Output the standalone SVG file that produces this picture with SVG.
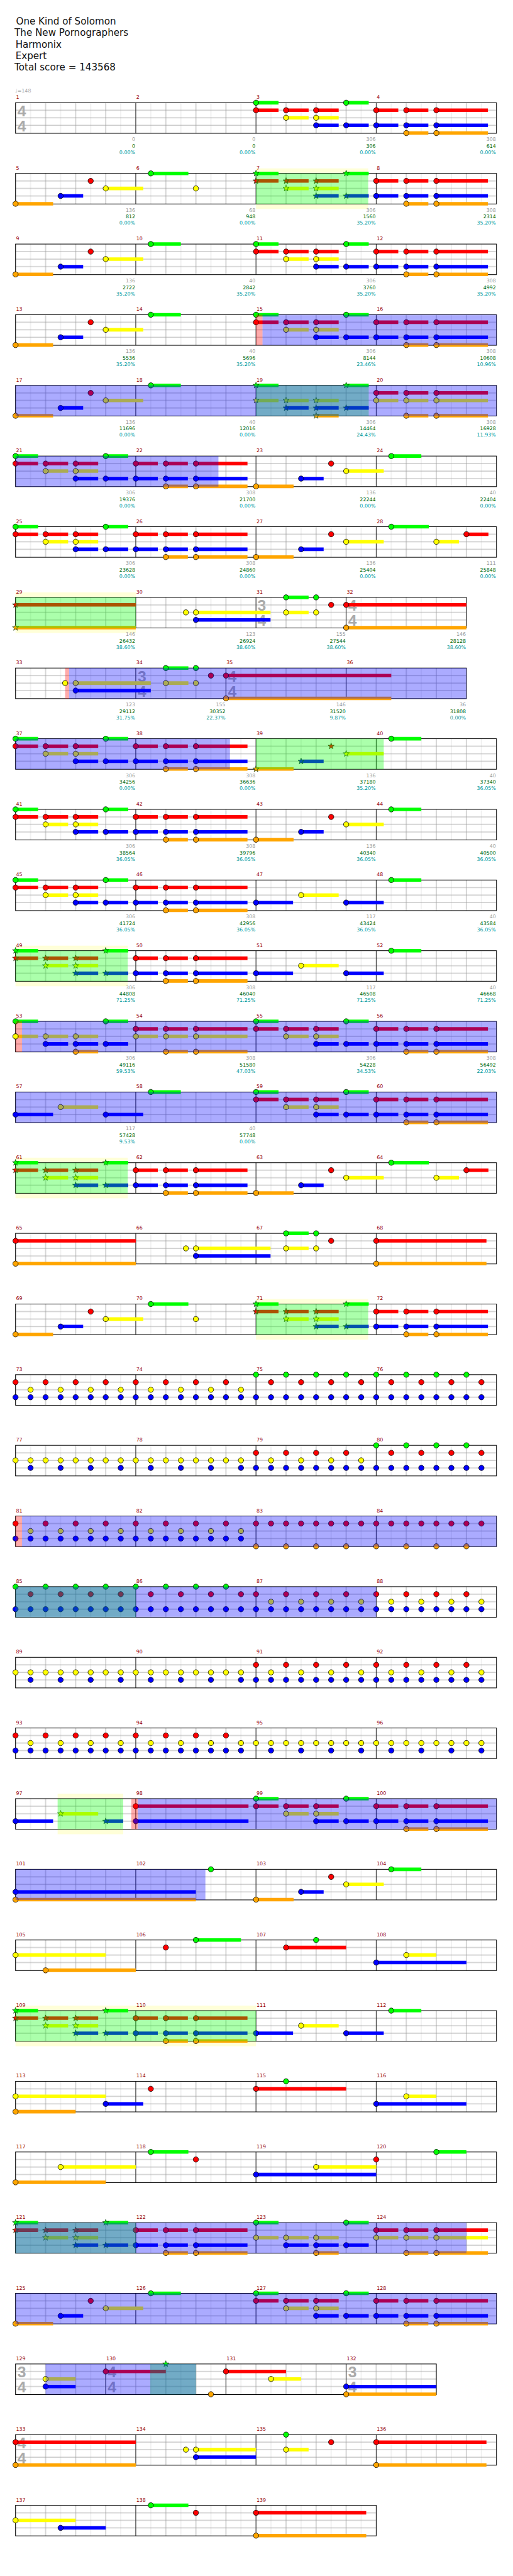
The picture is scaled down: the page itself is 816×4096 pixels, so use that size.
<svg xmlns="http://www.w3.org/2000/svg" width="816" height="4096" viewBox="0 0 816 4096">
<style>
.ml{stroke:#000;stroke-width:1}
.bd{fill:none;stroke:#000;stroke-width:1.3}
.g{fill:#0f0}.r{fill:#f00}.y{fill:#ff0}.b{fill:#00f}.o{fill:#ffa500}
.og{fill:#0f0;fill-opacity:.33}.ob{fill:#00f;fill-opacity:.33}.op{fill:#f00;fill-opacity:.33}
.yb{fill:#ffffd8}
.mn{font:10px "DejaVu Sans",sans-serif;fill:#900}
.sa,.sb,.sc{font:10px "DejaVu Sans",sans-serif;text-anchor:end}
.sa{fill:#999}.sb{fill:#060}.sc{fill:#099}
.ts{font:bold 31px "Liberation Sans",sans-serif;fill:#aaa}
.hd{font:19px "DejaVu Sans",sans-serif;fill:#111}
</style>
<defs>
<pattern id="grid" patternUnits="userSpaceOnUse" x="31" y="0" width="60" height="61">
<rect width="60" height="61" fill="#fff"/>
<path d="M30 0V61" stroke="#ddd"/>
<path d="M0 0V61M60 0V61M0 15H60M0 30H60M0 45H60" stroke="#999"/>
</pattern>
<circle id="G" r="5.3" fill="#0f0" stroke="#000"/>
<circle id="R" r="5.3" fill="#f00" stroke="#000"/>
<circle id="Y" r="5.3" fill="#ff0" stroke="#000"/>
<circle id="B" r="5.3" fill="#00f" stroke="#000"/>
<circle id="O" r="5.3" fill="#ffa500" stroke="#000"/>
<polygon id="sG" fill="#0f0" stroke="#030" stroke-width=".8" points="0,-6.5 1.5,-2.1 6.2,-2 2.5,0.8 3.8,5.3 0,2.6 -3.8,5.3 -2.5,0.8 -6.2,-2 -1.5,-2.1"/>
<polygon id="sR" fill="#f00" stroke="#030" stroke-width=".8" points="0,-6.5 1.5,-2.1 6.2,-2 2.5,0.8 3.8,5.3 0,2.6 -3.8,5.3 -2.5,0.8 -6.2,-2 -1.5,-2.1"/>
<polygon id="sY" fill="#ff0" stroke="#030" stroke-width=".8" points="0,-6.5 1.5,-2.1 6.2,-2 2.5,0.8 3.8,5.3 0,2.6 -3.8,5.3 -2.5,0.8 -6.2,-2 -1.5,-2.1"/>
<polygon id="sB" fill="#00f" stroke="#030" stroke-width=".8" points="0,-6.5 1.5,-2.1 6.2,-2 2.5,0.8 3.8,5.3 0,2.6 -3.8,5.3 -2.5,0.8 -6.2,-2 -1.5,-2.1"/>
<polygon id="sO" fill="#ffa500" stroke="#030" stroke-width=".8" points="0,-6.5 1.5,-2.1 6.2,-2 2.5,0.8 3.8,5.3 0,2.6 -3.8,5.3 -2.5,0.8 -6.2,-2 -1.5,-2.1"/>
<g id="A1">
<path class="g" d="M0 -3.5h45v7h-45zM180 -3.5h45v7h-45z"/>
<path class="r" d="M0 11.5h45v7h-45zM60 11.5h45v7h-45zM120 11.5h45v7h-45z"/>
<path class="y" d="M60 26.5h45v7h-45zM120 26.5h45v7h-45z"/>
<path class="b" d="M120 41.5h45v7h-45zM180 41.5h45v7h-45z"/>
<use href="#G" x="0" y="0"/><use href="#G" x="180" y="0"/>
<use href="#R" x="0" y="15"/><use href="#R" x="60" y="15"/><use href="#R" x="120" y="15"/>
<use href="#Y" x="60" y="30"/><use href="#Y" x="120" y="30"/>
<use href="#B" x="120" y="45"/><use href="#B" x="180" y="45"/>
</g>
<g id="A1s">
<path class="g" d="M0 -3.5h45v7h-45zM180 -3.5h45v7h-45z"/>
<path class="r" d="M0 11.5h45v7h-45zM60 11.5h45v7h-45zM120 11.5h45v7h-45z"/>
<path class="y" d="M60 26.5h45v7h-45zM120 26.5h45v7h-45z"/>
<path class="b" d="M120 41.5h45v7h-45zM180 41.5h45v7h-45z"/>
<use href="#sG" x="0" y="0"/><use href="#sG" x="180" y="0"/>
<use href="#sR" x="0" y="15"/><use href="#sR" x="60" y="15"/><use href="#sR" x="120" y="15"/>
<use href="#sY" x="60" y="30"/><use href="#sY" x="120" y="30"/>
<use href="#sB" x="120" y="45"/><use href="#sB" x="180" y="45"/>
</g>
<g id="A2">
<path class="r" d="M240 11.5h44v7h-44zM300 11.5h44v7h-44zM360 11.5h103v7h-103z"/>
<path class="b" d="M240 41.5h44v7h-44zM300 41.5h44v7h-44zM360 41.5h103v7h-103z"/>
<path class="o" d="M300 57h44v7h-44zM360 57h103v7h-103z"/>
<use href="#R" x="240" y="15"/><use href="#R" x="300" y="15"/><use href="#R" x="360" y="15"/>
<use href="#B" x="240" y="45"/><use href="#B" x="300" y="45"/><use href="#B" x="360" y="45"/>
<use href="#O" x="300" y="60.5"/><use href="#O" x="360" y="60.5"/>
</g>
<g id="C1">
<path class="g" d="M0 -3.5h45v7h-45zM180 -3.5h45v7h-45z"/>
<path class="y" d="M0 26.5h45v7h-45zM60 26.5h45v7h-45zM120 26.5h45v7h-45z"/>
<path class="b" d="M60 41.5h45v7h-45zM120 41.5h45v7h-45zM180 41.5h45v7h-45z"/>
<path class="o" d="M120 57h45v7h-45z"/>
<use href="#G" x="0" y="0"/><use href="#G" x="180" y="0"/>
<use href="#Y" x="0" y="30"/><use href="#Y" x="60" y="30"/><use href="#Y" x="120" y="30"/>
<use href="#B" x="60" y="45"/><use href="#B" x="120" y="45"/><use href="#B" x="180" y="45"/>
<use href="#O" x="120" y="60.5"/>
</g>
<g id="C1s">
<path class="g" d="M0 -3.5h45v7h-45zM180 -3.5h45v7h-45z"/>
<path class="y" d="M0 26.5h45v7h-45zM60 26.5h45v7h-45zM120 26.5h45v7h-45z"/>
<path class="b" d="M60 41.5h45v7h-45zM120 41.5h45v7h-45zM180 41.5h45v7h-45z"/>
<path class="o" d="M120 57h45v7h-45z"/>
<use href="#sG" x="0" y="0"/><use href="#sG" x="180" y="0"/>
<use href="#sY" x="0" y="30"/><use href="#sY" x="60" y="30"/><use href="#sY" x="120" y="30"/>
<use href="#sB" x="60" y="45"/><use href="#sB" x="120" y="45"/><use href="#sB" x="180" y="45"/>
<use href="#sO" x="120" y="60.5"/>
</g>
<g id="C2">
<path class="r" d="M240 11.5h44v7h-44zM300 11.5h44v7h-44zM360 11.5h103v7h-103z"/>
<path class="y" d="M240 26.5h44v7h-44zM300 26.5h44v7h-44zM360 26.5h103v7h-103z"/>
<path class="o" d="M300 57h44v7h-44zM360 57h103v7h-103z"/>
<use href="#R" x="240" y="15"/><use href="#R" x="300" y="15"/><use href="#R" x="360" y="15"/>
<use href="#Y" x="240" y="30"/><use href="#Y" x="300" y="30"/><use href="#Y" x="360" y="30"/>
<use href="#O" x="300" y="60.5"/><use href="#O" x="360" y="60.5"/>
</g>
<g id="M">
<path class="o" d="M0 57h75v7h-75z"/>
<path class="b" d="M90 41.5h45v7h-45z"/>
<path class="y" d="M180 26.5h75v7h-75z"/>
<use href="#O" x="0" y="60.5"/><use href="#B" x="90" y="45"/><use href="#R" x="150" y="15"/><use href="#Y" x="180" y="30"/>
</g>
<g id="Ms">
<path class="o" d="M0 57h75v7h-75z"/>
<path class="b" d="M90 41.5h45v7h-45z"/>
<path class="y" d="M180 26.5h75v7h-75z"/>
<use href="#sO" x="0" y="60.5"/><use href="#sB" x="90" y="45"/><use href="#sR" x="150" y="15"/><use href="#sY" x="180" y="30"/>
</g>
<g id="N">
<path class="b" d="M0 41.5h74v7h-74zM180 41.5h75v7h-75z"/>
<path class="y" d="M90 26.5h75v7h-75z"/>
<path class="g" d="M270 -3.5h60v7h-60z"/>
<use href="#B" x="0" y="45"/><use href="#Y" x="90" y="30"/><use href="#B" x="180" y="45"/><use href="#G" x="270" y="0"/>
</g>
<g id="E1">
<use href="#B" x="0" y="45"/><use href="#B" x="30" y="45"/><use href="#B" x="60" y="45"/><use href="#B" x="90" y="45"/><use href="#B" x="120" y="45"/><use href="#B" x="150" y="45"/><use href="#B" x="180" y="45"/><use href="#B" x="210" y="45"/>
<use href="#R" x="0" y="15"/><use href="#R" x="60" y="15"/><use href="#R" x="120" y="15"/><use href="#R" x="180" y="15"/>
<use href="#Y" x="30" y="30"/><use href="#Y" x="90" y="30"/><use href="#Y" x="150" y="30"/><use href="#Y" x="210" y="30"/>
</g>
<g id="E2">
<use href="#B" x="0" y="45"/><use href="#B" x="30" y="45"/><use href="#B" x="60" y="45"/><use href="#B" x="90" y="45"/><use href="#B" x="120" y="45"/><use href="#B" x="150" y="45"/><use href="#B" x="180" y="45"/><use href="#B" x="210" y="45"/>
<use href="#G" x="0" y="0"/><use href="#G" x="60" y="0"/><use href="#G" x="120" y="0"/><use href="#G" x="180" y="0"/>
<use href="#R" x="30" y="15"/><use href="#R" x="90" y="15"/><use href="#R" x="150" y="15"/><use href="#R" x="210" y="15"/>
</g>
<g id="E3">
<use href="#Y" x="0" y="30"/><use href="#Y" x="30" y="30"/><use href="#Y" x="60" y="30"/><use href="#Y" x="90" y="30"/><use href="#Y" x="120" y="30"/><use href="#Y" x="150" y="30"/><use href="#Y" x="180" y="30"/><use href="#Y" x="210" y="30"/>
<use href="#B" x="30" y="45"/><use href="#B" x="90" y="45"/><use href="#B" x="150" y="45"/><use href="#B" x="210" y="45"/>
</g>
<g id="E4">
<use href="#R" x="0" y="15"/><use href="#R" x="30" y="15"/><use href="#R" x="60" y="15"/><use href="#R" x="90" y="15"/><use href="#R" x="120" y="15"/><use href="#R" x="150" y="15"/><use href="#R" x="180" y="15"/><use href="#R" x="210" y="15"/>
<use href="#O" x="0" y="60.5"/><use href="#O" x="60" y="60.5"/><use href="#O" x="120" y="60.5"/><use href="#O" x="180" y="60.5"/>
</g>
<g id="st4">
<rect x="31" width="960" height="61" fill="url(#grid)"/>
<path class="ml" d="M271 0v61M511 0v61M751 0v61"/>
<rect class="bd" x="31" width="960" height="61"/>
</g>
</defs>
<rect width="816" height="4096" fill="#fff"/>
<g transform="scale(0.796875)">
<g id="header">
<text class="hd" x="32" y="49">One Kind of Solomon</text>
<text class="hd" x="29" y="72">The New Pornographers</text>
<text class="hd" x="31" y="95">Harmonix</text>
<text class="hd" x="31" y="118">Expert</text>
<text class="hd" x="29" y="141">Total score = 143568</text>
<text x="30" y="185" style="font:10px 'DejaVu Sans',sans-serif;fill:#aaa">♩=148</text>
</g>

<g id="row1" transform="translate(0,205)">
<use href="#st4"/>
<text class="ts" x="35" y="27">4</text><text class="ts" x="35" y="57">4</text>
<use href="#A1" x="511"/><use href="#A2" x="511"/>
<text class="mn" x="32" y="-7.5">1</text><text class="mn" x="272" y="-7.5">2</text><text class="mn" x="512" y="-7.5">3</text><text class="mn" x="752" y="-7.5">4</text>
<text class="sa" x="270" y="76.5">0</text><text class="sb" x="270" y="90">0</text><text class="sc" x="270" y="102.5">0.00%</text>
<text class="sa" x="510" y="76.5">0</text><text class="sb" x="510" y="90">0</text><text class="sc" x="510" y="102.5">0.00%</text>
<text class="sa" x="750" y="76.5">306</text><text class="sb" x="750" y="90">306</text><text class="sc" x="750" y="102.5">0.00%</text>
<text class="sa" x="990" y="76.5">308</text><text class="sb" x="990" y="90">614</text><text class="sc" x="990" y="102.5">0.00%</text>
</g>

<g id="row2" transform="translate(0,346)">
<rect class="yb" x="511" y="-10" width="224" height="81"/>
<use href="#st4"/>
<use href="#M" x="31"/>
<path class="g" d="M301 -3.5h75v7h-75z"/><use href="#G" x="301" y="0"/><use href="#Y" x="391" y="30"/>
<use href="#A1s" x="511"/><use href="#A2" x="511"/>
<rect class="og" x="511" width="224" height="61"/>
<text class="mn" x="32" y="-7.5">5</text><text class="mn" x="272" y="-7.5">6</text><text class="mn" x="512" y="-7.5">7</text><text class="mn" x="752" y="-7.5">8</text>
<text class="sa" x="270" y="76.5">136</text><text class="sb" x="270" y="90">812</text><text class="sc" x="270" y="102.5">0.00%</text>
<text class="sa" x="510" y="76.5">68</text><text class="sb" x="510" y="90">948</text><text class="sc" x="510" y="102.5">0.00%</text>
<text class="sa" x="750" y="76.5">306</text><text class="sb" x="750" y="90">1560</text><text class="sc" x="750" y="102.5">35.20%</text>
<text class="sa" x="990" y="76.5">308</text><text class="sb" x="990" y="90">2314</text><text class="sc" x="990" y="102.5">35.20%</text>
</g>

<g id="row3" transform="translate(0,487)">
<use href="#st4"/>
<use href="#M" x="31"/>
<path class="g" d="M301 -3.5h60v7h-60z"/><use href="#G" x="301" y="0"/>
<use href="#A1" x="511"/><use href="#A2" x="511"/>
<text class="mn" x="32" y="-7.5">9</text><text class="mn" x="272" y="-7.5">10</text><text class="mn" x="512" y="-7.5">11</text><text class="mn" x="752" y="-7.5">12</text>
<text class="sa" x="270" y="76.5">136</text><text class="sb" x="270" y="90">2722</text><text class="sc" x="270" y="102.5">35.20%</text>
<text class="sa" x="510" y="76.5">40</text><text class="sb" x="510" y="90">2842</text><text class="sc" x="510" y="102.5">35.20%</text>
<text class="sa" x="750" y="76.5">306</text><text class="sb" x="750" y="90">3760</text><text class="sc" x="750" y="102.5">35.20%</text>
<text class="sa" x="990" y="76.5">308</text><text class="sb" x="990" y="90">4992</text><text class="sc" x="990" y="102.5">35.20%</text>
</g>

<g id="row4" transform="translate(0,628)">
<use href="#st4"/>
<use href="#M" x="31"/>
<path class="g" d="M301 -3.5h60v7h-60z"/><use href="#G" x="301" y="0"/>
<use href="#A1" x="511"/><use href="#A2" x="511"/>
<rect class="op" x="511" width="13" height="61"/><rect class="ob" x="524" width="467" height="61"/>
<text class="mn" x="32" y="-7.5">13</text><text class="mn" x="272" y="-7.5">14</text><text class="mn" x="512" y="-7.5">15</text><text class="mn" x="752" y="-7.5">16</text>
<text class="sa" x="270" y="76.5">136</text><text class="sb" x="270" y="90">5536</text><text class="sc" x="270" y="102.5">35.20%</text>
<text class="sa" x="510" y="76.5">40</text><text class="sb" x="510" y="90">5696</text><text class="sc" x="510" y="102.5">35.20%</text>
<text class="sa" x="750" y="76.5">306</text><text class="sb" x="750" y="90">8144</text><text class="sc" x="750" y="102.5">23.46%</text>
<text class="sa" x="990" y="76.5">308</text><text class="sb" x="990" y="90">10608</text><text class="sc" x="990" y="102.5">10.96%</text>
</g>

<g id="row5" transform="translate(0,769)">
<use href="#st4"/>
<use href="#M" x="31"/>
<path class="g" d="M301 -3.5h60v7h-60z"/><use href="#G" x="301" y="0"/>
<use href="#C1s" x="511"/><use href="#C2" x="511"/>
<rect class="og" x="511" width="225" height="61"/>
<rect class="ob" x="31" width="960" height="61"/>
<text class="mn" x="32" y="-7.5">17</text><text class="mn" x="272" y="-7.5">18</text><text class="mn" x="512" y="-7.5">19</text><text class="mn" x="752" y="-7.5">20</text>
<text class="sa" x="270" y="76.5">136</text><text class="sb" x="270" y="90">11696</text><text class="sc" x="270" y="102.5">0.00%</text>
<text class="sa" x="510" y="76.5">40</text><text class="sb" x="510" y="90">12016</text><text class="sc" x="510" y="102.5">0.00%</text>
<text class="sa" x="750" y="76.5">306</text><text class="sb" x="750" y="90">14464</text><text class="sc" x="750" y="102.5">24.43%</text>
<text class="sa" x="990" y="76.5">308</text><text class="sb" x="990" y="90">16928</text><text class="sc" x="990" y="102.5">11.93%</text>
</g>

<g id="row6" transform="translate(0,910)">
<use href="#st4"/>
<use href="#A1" x="31"/><use href="#A2" x="31"/>
<use href="#M" x="511"/>
<path class="g" d="M781 -3.5h60v7h-60z"/><use href="#G" x="781" y="0"/>
<rect class="ob" x="31" width="405" height="61"/>
<text class="mn" x="32" y="-7.5">21</text><text class="mn" x="272" y="-7.5">22</text><text class="mn" x="512" y="-7.5">23</text><text class="mn" x="752" y="-7.5">24</text>
<text class="sa" x="270" y="76.5">306</text><text class="sb" x="270" y="90">19376</text><text class="sc" x="270" y="102.5">0.00%</text>
<text class="sa" x="510" y="76.5">308</text><text class="sb" x="510" y="90">21700</text><text class="sc" x="510" y="102.5">0.00%</text>
<text class="sa" x="750" y="76.5">136</text><text class="sb" x="750" y="90">22244</text><text class="sc" x="750" y="102.5">0.00%</text>
<text class="sa" x="990" y="76.5">40</text><text class="sb" x="990" y="90">22404</text><text class="sc" x="990" y="102.5">0.00%</text>
</g>

<g id="row7" transform="translate(0,1051)">
<use href="#st4"/>
<use href="#A1" x="31"/><use href="#A2" x="31"/>
<use href="#M" x="511"/>
<path class="g" d="M781 -3.5h75v7h-75z"/><use href="#G" x="781" y="0"/>
<path class="y" d="M871 26.5h45v7h-45z"/><use href="#Y" x="871" y="30"/>
<path class="r" d="M931 11.5h44v7h-44z"/><use href="#R" x="931" y="15"/>
<text class="mn" x="32" y="-7.5">25</text><text class="mn" x="272" y="-7.5">26</text><text class="mn" x="512" y="-7.5">27</text><text class="mn" x="752" y="-7.5">28</text>
<text class="sa" x="270" y="76.5">306</text><text class="sb" x="270" y="90">23628</text><text class="sc" x="270" y="102.5">0.00%</text>
<text class="sa" x="510" y="76.5">308</text><text class="sb" x="510" y="90">24860</text><text class="sc" x="510" y="102.5">0.00%</text>
<text class="sa" x="750" y="76.5">136</text><text class="sb" x="750" y="90">25404</text><text class="sc" x="750" y="102.5">0.00%</text>
<text class="sa" x="990" y="76.5">111</text><text class="sb" x="990" y="90">25848</text><text class="sc" x="990" y="102.5">0.00%</text>
</g>

<g id="row8" transform="translate(0,1192)">
<rect class="yb" x="31" y="-10" width="240" height="81"/>
<rect x="31" width="900" height="61" fill="url(#grid)"/>
<path class="ml" d="M271 0v61M511 0v61M691 0v61"/>
<rect class="bd" x="31" width="900" height="61"/>
<text class="ts" x="514" y="27">3</text><text class="ts" x="514" y="57">4</text>
<text class="ts" x="695" y="27">4</text><text class="ts" x="695" y="57">4</text>
<path class="r" d="M31 11.5h240v7h-240zM691 11.5h240v7h-240z"/>
<path class="o" d="M31 57h240v7h-240zM691 57h240v7h-240z"/>
<use href="#sR" x="31" y="15"/><use href="#sO" x="31" y="60.5"/>
<path class="y" d="M391 26.5h149v7h-149zM571 26.5h45v7h-45z"/>
<path class="b" d="M391 41.5h149v7h-149z"/>
<path class="g" d="M571 -3.5h45v7h-45z"/>
<use href="#Y" x="371" y="30"/><use href="#Y" x="391" y="30"/><use href="#B" x="391" y="45"/>
<use href="#G" x="571" y="0"/><use href="#Y" x="571" y="30"/><use href="#G" x="631" y="0"/><use href="#Y" x="631" y="30"/>
<use href="#R" x="661" y="15"/><use href="#R" x="691" y="15"/><use href="#O" x="691" y="60.5"/>
<rect class="og" x="31" width="240" height="61"/>
<text class="mn" x="32" y="-7.5">29</text><text class="mn" x="272" y="-7.5">30</text><text class="mn" x="512" y="-7.5">31</text><text class="mn" x="692" y="-7.5">32</text>
<text class="sa" x="270" y="76.5">146</text><text class="sb" x="270" y="90">26432</text><text class="sc" x="270" y="102.5">38.60%</text>
<text class="sa" x="510" y="76.5">123</text><text class="sb" x="510" y="90">26924</text><text class="sc" x="510" y="102.5">38.60%</text>
<text class="sa" x="690" y="76.5">155</text><text class="sb" x="690" y="90">27544</text><text class="sc" x="690" y="102.5">38.60%</text>
<text class="sa" x="930" y="76.5">146</text><text class="sb" x="930" y="90">28128</text><text class="sc" x="930" y="102.5">38.60%</text>
</g>

<g id="row9" transform="translate(0,1333)">
<rect x="31" width="900" height="61" fill="url(#grid)"/>
<path class="ml" d="M271 0v61M451 0v61M691 0v61"/>
<rect class="bd" x="31" width="900" height="61"/>
<text class="ts" x="275" y="27">3</text><text class="ts" x="275" y="57">4</text>
<text class="ts" x="455" y="27">4</text><text class="ts" x="455" y="57">4</text>
<path class="y" d="M151 26.5h150v7h-150zM331 26.5h45v7h-45z"/>
<path class="b" d="M151 41.5h150v7h-150z"/>
<path class="g" d="M331 -3.5h45v7h-45z"/>
<path class="r" d="M451 11.5h330v7h-330z"/>
<path class="o" d="M451 57h330v7h-330z"/>
<use href="#Y" x="151" y="30"/><use href="#B" x="151" y="45"/>
<use href="#G" x="331" y="0"/><use href="#Y" x="331" y="30"/><use href="#G" x="391" y="0"/><use href="#Y" x="391" y="30"/>
<use href="#R" x="421" y="15"/><use href="#R" x="451" y="15"/><use href="#O" x="451" y="60.5"/>
<rect class="op" x="130" width="8" height="61"/><rect class="ob" x="138" width="793" height="61"/>
<use href="#Y" x="130" y="30"/>
<text class="mn" x="32" y="-7.5">33</text><text class="mn" x="272" y="-7.5">34</text><text class="mn" x="452" y="-7.5">35</text><text class="mn" x="692" y="-7.5">36</text>
<text class="sa" x="270" y="76.5">123</text><text class="sb" x="270" y="90">29112</text><text class="sc" x="270" y="102.5">31.75%</text>
<text class="sa" x="450" y="76.5">155</text><text class="sb" x="450" y="90">30352</text><text class="sc" x="450" y="102.5">22.37%</text>
<text class="sa" x="690" y="76.5">146</text><text class="sb" x="690" y="90">31520</text><text class="sc" x="690" y="102.5">9.87%</text>
<text class="sa" x="930" y="76.5">36</text><text class="sb" x="930" y="90">31808</text><text class="sc" x="930" y="102.5">0.00%</text>
</g>

<g id="row10" transform="translate(0,1474)">
<use href="#st4"/>
<use href="#A1" x="31"/><use href="#A2" x="31"/>
<use href="#Ms" x="511"/>
<path class="g" d="M781 -3.5h60v7h-60z"/><use href="#G" x="781" y="0"/>
<rect class="ob" x="31" width="428" height="61"/>
<rect class="og" x="511" width="255" height="61"/>
<text class="mn" x="32" y="-7.5">37</text><text class="mn" x="272" y="-7.5">38</text><text class="mn" x="512" y="-7.5">39</text><text class="mn" x="752" y="-7.5">40</text>
<text class="sa" x="270" y="76.5">306</text><text class="sb" x="270" y="90">34256</text><text class="sc" x="270" y="102.5">0.00%</text>
<text class="sa" x="510" y="76.5">308</text><text class="sb" x="510" y="90">36636</text><text class="sc" x="510" y="102.5">0.00%</text>
<text class="sa" x="750" y="76.5">136</text><text class="sb" x="750" y="90">37180</text><text class="sc" x="750" y="102.5">35.20%</text>
<text class="sa" x="990" y="76.5">40</text><text class="sb" x="990" y="90">37340</text><text class="sc" x="990" y="102.5">36.05%</text>
</g>

<g id="row11" transform="translate(0,1615)">
<use href="#st4"/>
<use href="#A1" x="31"/><use href="#A2" x="31"/>
<use href="#M" x="511"/>
<path class="g" d="M781 -3.5h60v7h-60z"/><use href="#G" x="781" y="0"/>
<text class="mn" x="32" y="-7.5">41</text><text class="mn" x="272" y="-7.5">42</text><text class="mn" x="512" y="-7.5">43</text><text class="mn" x="752" y="-7.5">44</text>
<text class="sa" x="270" y="76.5">306</text><text class="sb" x="270" y="90">38564</text><text class="sc" x="270" y="102.5">36.05%</text>
<text class="sa" x="510" y="76.5">308</text><text class="sb" x="510" y="90">39796</text><text class="sc" x="510" y="102.5">36.05%</text>
<text class="sa" x="750" y="76.5">136</text><text class="sb" x="750" y="90">40340</text><text class="sc" x="750" y="102.5">36.05%</text>
<text class="sa" x="990" y="76.5">40</text><text class="sb" x="990" y="90">40500</text><text class="sc" x="990" y="102.5">36.05%</text>
</g>

<g id="row12" transform="translate(0,1756)">
<use href="#st4"/>
<use href="#A1" x="31"/><use href="#A2" x="31"/>
<use href="#N" x="511"/>
<text class="mn" x="32" y="-7.5">45</text><text class="mn" x="272" y="-7.5">46</text><text class="mn" x="512" y="-7.5">47</text><text class="mn" x="752" y="-7.5">48</text>
<text class="sa" x="270" y="76.5">306</text><text class="sb" x="270" y="90">41724</text><text class="sc" x="270" y="102.5">36.05%</text>
<text class="sa" x="510" y="76.5">308</text><text class="sb" x="510" y="90">42956</text><text class="sc" x="510" y="102.5">36.05%</text>
<text class="sa" x="750" y="76.5">117</text><text class="sb" x="750" y="90">43424</text><text class="sc" x="750" y="102.5">36.05%</text>
<text class="sa" x="990" y="76.5">40</text><text class="sb" x="990" y="90">43584</text><text class="sc" x="990" y="102.5">36.05%</text>
</g>

<g id="row13" transform="translate(0,1897)">
<rect class="yb" x="31" y="-10" width="224" height="81"/>
<use href="#st4"/>
<use href="#A1s" x="31"/><use href="#A2" x="31"/>
<use href="#N" x="511"/>
<rect class="og" x="31" width="224" height="61"/>
<text class="mn" x="32" y="-7.5">49</text><text class="mn" x="272" y="-7.5">50</text><text class="mn" x="512" y="-7.5">51</text><text class="mn" x="752" y="-7.5">52</text>
<text class="sa" x="270" y="76.5">306</text><text class="sb" x="270" y="90">44808</text><text class="sc" x="270" y="102.5">71.25%</text>
<text class="sa" x="510" y="76.5">308</text><text class="sb" x="510" y="90">46040</text><text class="sc" x="510" y="102.5">71.25%</text>
<text class="sa" x="750" y="76.5">117</text><text class="sb" x="750" y="90">46508</text><text class="sc" x="750" y="102.5">71.25%</text>
<text class="sa" x="990" y="76.5">40</text><text class="sb" x="990" y="90">46668</text><text class="sc" x="990" y="102.5">71.25%</text>
</g>

<g id="row14" transform="translate(0,2038)">
<use href="#st4"/>
<use href="#C1" x="31"/><use href="#C2" x="31"/>
<use href="#A1" x="511"/><use href="#A2" x="511"/>
<rect class="op" x="31" width="13" height="61"/><rect class="ob" x="44" width="947" height="61"/>
<use href="#Y" x="31" y="30"/>
<text class="mn" x="32" y="-7.5">53</text><text class="mn" x="272" y="-7.5">54</text><text class="mn" x="512" y="-7.5">55</text><text class="mn" x="752" y="-7.5">56</text>
<text class="sa" x="270" y="76.5">306</text><text class="sb" x="270" y="90">49116</text><text class="sc" x="270" y="102.5">59.53%</text>
<text class="sa" x="510" y="76.5">308</text><text class="sb" x="510" y="90">51580</text><text class="sc" x="510" y="102.5">47.03%</text>
<text class="sa" x="750" y="76.5">306</text><text class="sb" x="750" y="90">54228</text><text class="sc" x="750" y="102.5">34.53%</text>
<text class="sa" x="990" y="76.5">308</text><text class="sb" x="990" y="90">56492</text><text class="sc" x="990" y="102.5">22.03%</text>
</g>

<g id="row15" transform="translate(0,2179)">
<use href="#st4"/>
<path class="b" d="M31 41.5h75v7h-75zM211 41.5h75v7h-75z"/>
<path class="y" d="M121 26.5h75v7h-75z"/>
<path class="g" d="M301 -3.5h60v7h-60z"/>
<use href="#B" x="31" y="45"/><use href="#Y" x="121" y="30"/><use href="#B" x="211" y="45"/><use href="#G" x="301" y="0"/>
<use href="#A1" x="511"/><use href="#A2" x="511"/>
<rect class="ob" x="31" width="960" height="61"/>
<text class="mn" x="32" y="-7.5">57</text><text class="mn" x="272" y="-7.5">58</text><text class="mn" x="512" y="-7.5">59</text><text class="mn" x="752" y="-7.5">60</text>
<text class="sa" x="270" y="76.5">117</text><text class="sb" x="270" y="90">57428</text><text class="sc" x="270" y="102.5">9.53%</text>
<text class="sa" x="510" y="76.5">40</text><text class="sb" x="510" y="90">57748</text><text class="sc" x="510" y="102.5">0.00%</text>
</g>

<g id="row16" transform="translate(0,2320)">
<rect class="yb" x="31" y="-10" width="224" height="81"/>
<use href="#st4"/>
<use href="#A1s" x="31"/><use href="#A2" x="31"/>
<use href="#M" x="511"/>
<path class="g" d="M781 -3.5h75v7h-75z"/><use href="#G" x="781" y="0"/>
<path class="y" d="M871 26.5h45v7h-45z"/><use href="#Y" x="871" y="30"/>
<path class="r" d="M931 11.5h44v7h-44z"/><use href="#R" x="931" y="15"/>
<rect class="og" x="31" width="224" height="61"/>
<text class="mn" x="32" y="-7.5">61</text><text class="mn" x="272" y="-7.5">62</text><text class="mn" x="512" y="-7.5">63</text><text class="mn" x="752" y="-7.5">64</text>
</g>

<g id="row17" transform="translate(0,2461)">
<use href="#st4"/>
<path class="r" d="M31 11.5h240v7h-240zM751 11.5h220v7h-220z"/>
<path class="o" d="M31 57h240v7h-240zM751 57h220v7h-220z"/>
<path class="y" d="M391 26.5h149v7h-149zM571 26.5h45v7h-45z"/>
<path class="b" d="M391 41.5h149v7h-149z"/>
<path class="g" d="M571 -3.5h45v7h-45z"/>
<use href="#R" x="31" y="15"/><use href="#O" x="31" y="60.5"/>
<use href="#Y" x="371" y="30"/><use href="#Y" x="391" y="30"/><use href="#B" x="391" y="45"/>
<use href="#G" x="571" y="0"/><use href="#Y" x="571" y="30"/><use href="#G" x="631" y="0"/><use href="#Y" x="631" y="30"/>
<use href="#R" x="661" y="15"/><use href="#R" x="751" y="15"/><use href="#O" x="751" y="60.5"/>
<text class="mn" x="32" y="-7.5">65</text><text class="mn" x="272" y="-7.5">66</text><text class="mn" x="512" y="-7.5">67</text><text class="mn" x="752" y="-7.5">68</text>
</g>

<g id="row18" transform="translate(0,2602)">
<rect class="yb" x="511" y="-10" width="224" height="81"/>
<use href="#st4"/>
<use href="#M" x="31"/>
<path class="g" d="M301 -3.5h75v7h-75z"/><use href="#G" x="301" y="0"/><use href="#Y" x="391" y="30"/>
<use href="#A1s" x="511"/><use href="#A2" x="511"/>
<rect class="og" x="511" width="224" height="61"/>
<text class="mn" x="32" y="-7.5">69</text><text class="mn" x="272" y="-7.5">70</text><text class="mn" x="512" y="-7.5">71</text><text class="mn" x="752" y="-7.5">72</text>
</g>

<g id="row19" transform="translate(0,2743)">
<use href="#st4"/>
<use href="#E1" x="31"/><use href="#E1" x="271"/><use href="#E2" x="511"/><use href="#E2" x="751"/>
<text class="mn" x="32" y="-7.5">73</text><text class="mn" x="272" y="-7.5">74</text><text class="mn" x="512" y="-7.5">75</text><text class="mn" x="752" y="-7.5">76</text>
</g>

<g id="row20" transform="translate(0,2884)">
<use href="#st4"/>
<use href="#E3" x="31"/><use href="#E3" x="271"/><use href="#E1" x="511"/><use href="#E2" x="751"/>
<text class="mn" x="32" y="-7.5">77</text><text class="mn" x="272" y="-7.5">78</text><text class="mn" x="512" y="-7.5">79</text><text class="mn" x="752" y="-7.5">80</text>
</g>

<g id="row21" transform="translate(0,3025)">
<use href="#st4"/>
<use href="#E1" x="31"/><use href="#E1" x="271"/><use href="#E4" x="511"/><use href="#E4" x="751"/>
<rect class="op" x="31" width="13" height="61"/><rect class="ob" x="44" width="947" height="61"/>
<text class="mn" x="32" y="-7.5">81</text><text class="mn" x="272" y="-7.5">82</text><text class="mn" x="512" y="-7.5">83</text><text class="mn" x="752" y="-7.5">84</text>
</g>

<g id="row22" transform="translate(0,3166)">
<use href="#st4"/>
<use href="#E2" x="31"/><use href="#E2" x="271"/><use href="#E1" x="511"/><use href="#E1" x="751"/>
<rect class="og" x="31" width="240" height="61"/>
<rect class="ob" x="31" width="720" height="61"/>
<text class="mn" x="32" y="-7.5">85</text><text class="mn" x="272" y="-7.5">86</text><text class="mn" x="512" y="-7.5">87</text><text class="mn" x="752" y="-7.5">88</text>
</g>

<g id="row23" transform="translate(0,3307)">
<use href="#st4"/>
<use href="#E3" x="31"/><use href="#E3" x="271"/><use href="#E1" x="511"/><use href="#E1" x="751"/>
<text class="mn" x="32" y="-7.5">89</text><text class="mn" x="272" y="-7.5">90</text><text class="mn" x="512" y="-7.5">91</text><text class="mn" x="752" y="-7.5">92</text>
</g>

<g id="row24" transform="translate(0,3448)">
<use href="#st4"/>
<use href="#E1" x="31"/><use href="#E1" x="271"/><use href="#E3" x="511"/><use href="#E3" x="751"/>
<text class="mn" x="32" y="-7.5">93</text><text class="mn" x="272" y="-7.5">94</text><text class="mn" x="512" y="-7.5">95</text><text class="mn" x="752" y="-7.5">96</text>
</g>

<g id="row25" transform="translate(0,3589)">
<rect class="yb" x="115" y="-10" width="131" height="81"/>
<use href="#st4"/>
<path class="b" d="M31 41.5h75v7h-75zM211 41.5h35v7h-35zM271 41.5h225v7h-225z"/>
<path class="y" d="M121 26.5h75v7h-75z"/>
<path class="r" d="M271 11.5h225v7h-225z"/>
<use href="#B" x="31" y="45"/><use href="#sY" x="121" y="30"/><use href="#sB" x="211" y="45"/>
<use href="#R" x="271" y="15"/><use href="#B" x="271" y="45"/>
<use href="#A1" x="511"/><use href="#A2" x="511"/>
<rect class="og" x="115" width="131" height="61"/>
<rect class="op" x="262" width="13" height="61"/><rect class="ob" x="275" width="716" height="61"/>
<text class="mn" x="32" y="-7.5">97</text><text class="mn" x="272" y="-7.5">98</text><text class="mn" x="512" y="-7.5">99</text><text class="mn" x="752" y="-7.5">100</text>
</g>

<g id="row26" transform="translate(0,3730)">
<use href="#st4"/>
<path class="b" d="M31 41.5h360v7h-360z"/>
<path class="o" d="M31 57h360v7h-360z"/>
<use href="#B" x="31" y="45"/><use href="#O" x="31" y="60.5"/><use href="#G" x="421" y="0"/>
<use href="#M" x="511"/>
<path class="g" d="M781 -3.5h60v7h-60z"/><use href="#G" x="781" y="0"/>
<rect class="ob" x="31" width="379" height="61"/>
<text class="mn" x="32" y="-7.5">101</text><text class="mn" x="272" y="-7.5">102</text><text class="mn" x="512" y="-7.5">103</text><text class="mn" x="752" y="-7.5">104</text>
</g>

<g id="row27" transform="translate(0,3871)">
<use href="#st4"/>
<path class="y" d="M31 26.5h180v7h-180zM811 26.5h60v7h-60z"/>
<path class="o" d="M91 57h180v7h-180z"/>
<path class="g" d="M391 -3.5h90v7h-90z"/>
<path class="r" d="M571 11.5h120v7h-120z"/>
<path class="b" d="M751 41.5h180v7h-180z"/>
<use href="#Y" x="31" y="30"/><use href="#O" x="91" y="60.5"/><use href="#R" x="331" y="15"/><use href="#G" x="391" y="0"/>
<use href="#R" x="571" y="15"/><use href="#G" x="631" y="0"/><use href="#B" x="751" y="45"/><use href="#Y" x="811" y="30"/>
<text class="mn" x="32" y="-7.5">105</text><text class="mn" x="272" y="-7.5">106</text><text class="mn" x="512" y="-7.5">107</text><text class="mn" x="752" y="-7.5">108</text>
</g>

<g id="row28" transform="translate(0,4012)">
<rect class="yb" x="31" y="-10" width="480" height="81"/>
<use href="#st4"/>
<use href="#A1s" x="31"/><use href="#A2" x="31"/>
<use href="#N" x="511"/>
<rect class="og" x="31" width="480" height="61"/>
<text class="mn" x="32" y="-7.5">109</text><text class="mn" x="272" y="-7.5">110</text><text class="mn" x="512" y="-7.5">111</text><text class="mn" x="752" y="-7.5">112</text>
</g>

<g id="row29" transform="translate(0,4153)">
<use href="#st4"/>
<path class="y" d="M31 26.5h180v7h-180zM811 26.5h60v7h-60z"/>
<path class="o" d="M31 57h120v7h-120z"/>
<path class="b" d="M211 41.5h75v7h-75zM751 41.5h180v7h-180z"/>
<path class="r" d="M511 11.5h180v7h-180z"/>
<use href="#Y" x="31" y="30"/><use href="#O" x="31" y="60.5"/><use href="#B" x="211" y="45"/><use href="#R" x="301" y="15"/>
<use href="#R" x="511" y="15"/><use href="#G" x="571" y="0"/><use href="#B" x="751" y="45"/><use href="#Y" x="811" y="30"/>
<text class="mn" x="32" y="-7.5">113</text><text class="mn" x="272" y="-7.5">114</text><text class="mn" x="512" y="-7.5">115</text><text class="mn" x="752" y="-7.5">116</text>
</g>

<g id="row30" transform="translate(0,4294)">
<use href="#st4"/>
<path class="o" d="M31 57h180v7h-180z"/>
<path class="y" d="M121 26.5h150v7h-150zM631 26.5h120v7h-120z"/>
<path class="g" d="M301 -3.5h75v7h-75zM871 -3.5h60v7h-60z"/>
<path class="b" d="M511 41.5h240v7h-240z"/>
<use href="#O" x="31" y="60.5"/><use href="#Y" x="121" y="30"/><use href="#G" x="301" y="0"/><use href="#R" x="391" y="15"/>
<use href="#B" x="511" y="45"/><use href="#Y" x="631" y="30"/><use href="#R" x="751" y="15"/><use href="#G" x="871" y="0"/>
<text class="mn" x="32" y="-7.5">117</text><text class="mn" x="272" y="-7.5">118</text><text class="mn" x="512" y="-7.5">119</text><text class="mn" x="752" y="-7.5">120</text>
</g>

<g id="row31" transform="translate(0,4435)">
<use href="#st4"/>
<use href="#A1s" x="31"/><use href="#A2" x="31"/>
<use href="#C1" x="511"/><use href="#C2" x="511"/>
<rect class="og" x="31" width="240" height="61"/>
<rect class="ob" x="31" width="900" height="61"/>
<text class="mn" x="32" y="-7.5">121</text><text class="mn" x="272" y="-7.5">122</text><text class="mn" x="512" y="-7.5">123</text><text class="mn" x="752" y="-7.5">124</text>
</g>

<g id="row32" transform="translate(0,4576)">
<use href="#st4"/>
<use href="#M" x="31"/>
<path class="g" d="M301 -3.5h60v7h-60z"/><use href="#G" x="301" y="0"/>
<use href="#A1" x="511"/><use href="#A2" x="511"/>
<rect class="ob" x="31" width="960" height="61"/>
<text class="mn" x="32" y="-7.5">125</text><text class="mn" x="272" y="-7.5">126</text><text class="mn" x="512" y="-7.5">127</text><text class="mn" x="752" y="-7.5">128</text>
</g>

<g id="row33" transform="translate(0,4717)">
<rect x="31" width="840" height="61" fill="url(#grid)"/>
<path class="ml" d="M211 0v61M451 0v61M691 0v61"/>
<rect class="bd" x="31" width="840" height="61"/>
<text class="ts" x="35" y="27">3</text><text class="ts" x="35" y="57">4</text>
<text class="ts" x="215" y="27">4</text><text class="ts" x="215" y="57">4</text>
<text class="ts" x="695" y="27">3</text><text class="ts" x="695" y="57">4</text>
<path class="y" d="M91 26.5h60v7h-60zM541 26.5h60v7h-60z"/>
<path class="b" d="M91 41.5h60v7h-60zM691 41.5h180v7h-180z"/>
<path class="r" d="M211 11.5h120v7h-120zM451 11.5h120v7h-120z"/>
<path class="o" d="M691 57h180v7h-180z"/>
<use href="#Y" x="91" y="30"/><use href="#B" x="91" y="45"/><use href="#R" x="211" y="15"/><use href="#sG" x="331" y="0"/>
<use href="#O" x="421" y="60.5"/><use href="#R" x="451" y="15"/><use href="#Y" x="541" y="30"/>
<use href="#B" x="691" y="45"/><use href="#O" x="691" y="60.5"/>
<rect class="og" x="300" width="91" height="61"/>
<rect class="ob" x="91" width="300" height="61"/>
<text class="mn" x="32" y="-7.5">129</text><text class="mn" x="212" y="-7.5">130</text><text class="mn" x="452" y="-7.5">131</text><text class="mn" x="692" y="-7.5">132</text>
</g>

<g id="row34" transform="translate(0,4858)">
<use href="#st4"/>
<text class="ts" x="35" y="27">4</text><text class="ts" x="35" y="57">4</text>
<path class="r" d="M31 11.5h240v7h-240zM751 11.5h220v7h-220z"/>
<path class="o" d="M31 57h240v7h-240zM751 57h220v7h-220z"/>
<path class="y" d="M391 26.5h120v7h-120zM571 26.5h45v7h-45z"/>
<path class="b" d="M391 41.5h120v7h-120z"/>
<use href="#R" x="31" y="15"/><use href="#O" x="31" y="60.5"/>
<use href="#Y" x="371" y="30"/><use href="#Y" x="391" y="30"/><use href="#B" x="391" y="45"/>
<use href="#G" x="571" y="0"/><use href="#Y" x="571" y="30"/><use href="#R" x="661" y="15"/>
<use href="#R" x="751" y="15"/><use href="#O" x="751" y="60.5"/>
<text class="mn" x="32" y="-7.5">133</text><text class="mn" x="272" y="-7.5">134</text><text class="mn" x="512" y="-7.5">135</text><text class="mn" x="752" y="-7.5">136</text>
</g>

<g id="row35" transform="translate(0,4999)">
<rect x="31" width="720" height="61" fill="url(#grid)"/>
<path class="ml" d="M271 0v61M511 0v61"/>
<rect class="bd" x="31" width="720" height="61"/>
<path class="y" d="M31 26.5h120v7h-120z"/>
<path class="b" d="M121 41.5h90v7h-90z"/>
<path class="g" d="M301 -3.5h75v7h-75z"/>
<path class="r" d="M511 11.5h220v7h-220z"/>
<path class="o" d="M511 57h220v7h-220z"/>
<use href="#Y" x="31" y="30"/><use href="#B" x="121" y="45"/><use href="#G" x="301" y="0"/><use href="#R" x="391" y="15"/>
<use href="#R" x="511" y="15"/><use href="#O" x="511" y="60.5"/>
<text class="mn" x="32" y="-7.5">137</text><text class="mn" x="272" y="-7.5">138</text><text class="mn" x="512" y="-7.5">139</text>
</g>
</g>
</svg>
